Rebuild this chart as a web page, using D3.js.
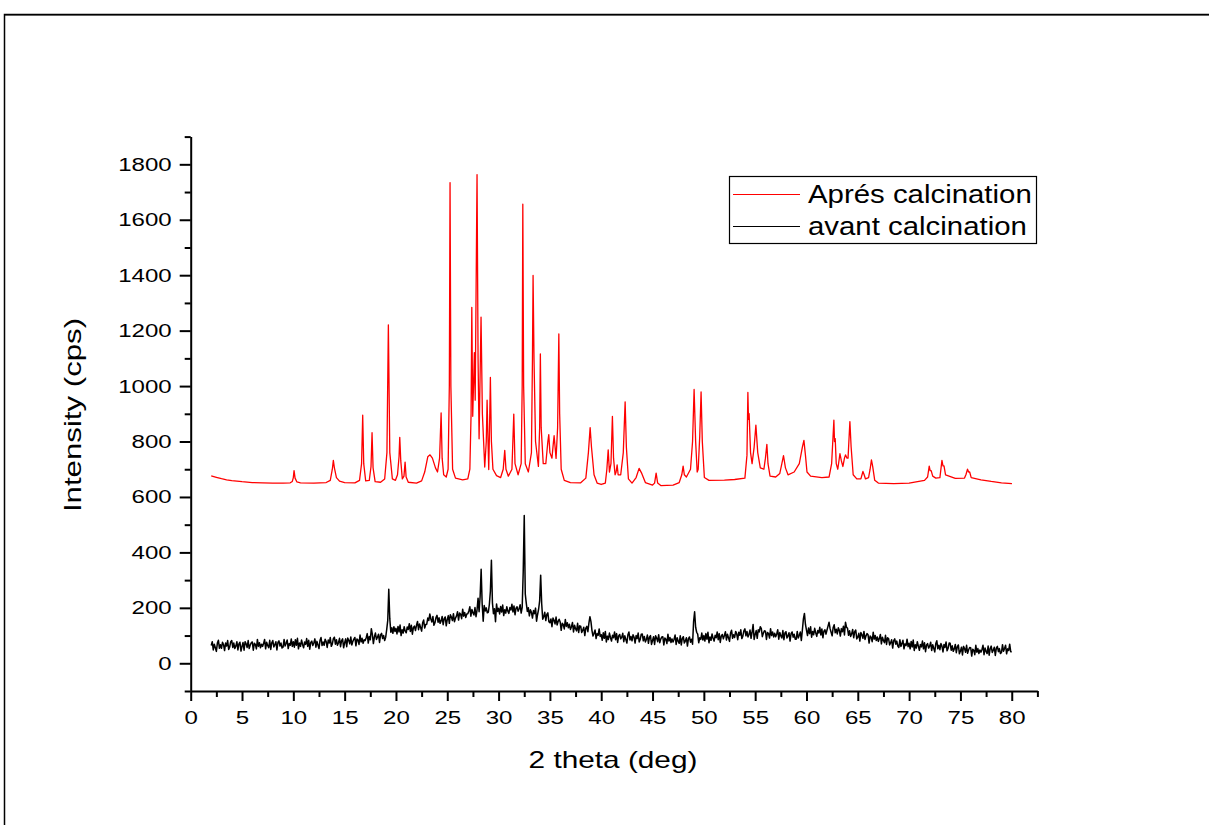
<!DOCTYPE html>
<html>
<head>
<meta charset="utf-8">
<script src="https://cdn.jsdelivr.net/npm/d3@7"></script>
<style>
  body { margin: 0; background: #fff; }
  text { font-family: "Liberation Sans", Arial, sans-serif; fill: #000; }
</style>
</head>
<body>
<div id="chart"></div>
<script>
// axis ticks
const xMajorTicks = [0, 5, 10, 15, 20, 25, 30, 35, 40, 45, 50, 55, 60, 65, 70, 75, 80];
const xMinorTicks = [2.5, 7.5, 12.5, 17.5, 22.5, 27.5, 32.5, 37.5, 42.5, 47.5, 52.5, 57.5, 62.5, 67.5, 72.5, 77.5, 82.5];
const yMajorTicks = [0, 200, 400, 600, 800, 1000, 1200, 1400, 1600, 1800];
const yMinorTicks = [-100, 100, 300, 500, 700, 900, 1100, 1300, 1500, 1700, 1900];

const seriesNames = ["Aprés calcination", "avant calcination"];
const seriesColors = ["#ff0000", "#000000"];

// after calcination: [2theta, cps]
const apresPoints = [
  [2.0,676],[2.5,671],[3.0,666],[3.5,662],[4.0,659],[5.0,655],[6.0,652],[7.0,651],[8.0,650],[9.0,650],[9.7,651],
  [9.9,656],[10.0,670],[10.07,695],[10.17,668],[10.35,654],[10.7,651],[12.0,650],[13.2,652],
  [13.6,660],[13.8,700],[13.9,732],[14.0,705],[14.2,670],[14.5,657],[15.0,652],[16.0,651],
  [16.45,660],[16.65,720],[16.76,895],[16.86,720],[17.05,658],
  [17.4,660],[17.57,710],[17.67,832],[17.77,705],[17.97,655],[18.5,653],
  [18.9,665],[19.12,760],[19.26,1221],[19.4,760],[19.65,665],[19.95,660],
  [20.15,680],[20.3,745],[20.37,815],[20.47,730],[20.62,665],
  [20.78,675],[20.89,726],[20.99,672],[21.2,653],[22.0,650],
  [22.5,658],[22.8,690],[23.1,745],[23.32,752],[23.55,740],[23.85,705],[24.05,690],
  [24.25,740],[24.4,903],[24.5,740],[24.65,680],[24.9,672],
  [25.08,700],[25.2,1000],[25.27,1734],[25.35,1000],[25.52,700],[25.8,668],[26.5,662],[27.0,665],
  [27.2,700],[27.32,900],[27.39,1284],[27.48,891],[27.64,1121],[27.72,949],[27.9,1763],[28.0,1100],
  [28.1,810],[28.29,1249],[28.42,900],[28.65,708],[28.8,800],[28.88,949],[28.97,800],[29.04,699],
  [29.12,850],[29.2,1031],[29.3,800],[29.45,700],[29.8,677],[30.2,670],
  [30.45,700],[30.6,768],[30.72,700],[30.95,675],[31.3,700],[31.48,899],[31.6,720],[31.9,680],
  [32.2,720],[32.3,1000],[32.36,1656],[32.44,1000],[32.6,720],[32.9,690],
  [33.2,760],[33.3,1100],[33.36,1399],[33.45,1100],[33.6,800],[33.88,710],
  [34.0,850],[34.07,1116],[34.15,850],[34.35,720],[34.6,720],[34.8,800],[34.89,825],[35.0,760],
  [35.2,740],[35.35,800],[35.41,821],[35.6,739],[35.75,850],[35.87,1188],[35.95,900],[36.1,700],
  [36.4,660],[37.0,652],[38.0,651],[38.5,668],[38.75,760],[38.92,850],[39.05,780],[39.3,680],
  [39.6,650],[40.0,645],[40.4,650],
  [40.55,700],[40.68,770],[40.8,690],[40.95,720],[41.09,891],[41.2,740],[41.35,680],[41.45,690],
  [41.55,716],[41.65,680],[41.9,680],[42.15,760],[42.33,943],[42.45,780],[42.65,665],[43.0,650],
  [43.4,670],[43.69,703],[43.95,685],[44.3,652],[45.0,643],[45.2,650],[45.35,686],[45.5,650],
  [45.8,641],[47.0,643],[47.6,652],[47.85,680],[47.98,711],[48.1,680],[48.3,672],
  [48.7,700],[48.9,800],[49.05,988],[49.2,800],[49.35,690],[49.45,700],[49.6,820],[49.73,979],
  [49.85,800],[50.05,670],[50.5,660],[52.0,661],[53.0,663],[54.0,668],
  [54.2,750],[54.29,977],[54.35,880],[54.41,901],[54.55,760],[54.7,720],[54.9,780],[55.07,859],
  [55.25,760],[55.5,705],[55.85,700],[56.0,740],[56.14,790],[56.25,720],[56.45,675],
  [57.0,672],[57.4,685],[57.6,720],[57.76,749],[57.95,705],[58.2,680],[58.8,690],
  [59.3,720],[59.6,780],[59.75,804],[59.9,750],[60.05,690],[60.4,675],[61.5,670],[62.2,672],
  [62.45,720],[62.67,877],[62.73,800],[62.8,810],[62.9,720],[63.05,700],[63.26,756],[63.4,730],
  [63.55,710],[63.7,740],[63.8,752],[63.95,740],[64.05,740],[64.23,872],[64.35,780],[64.55,680],
  [64.9,665],[65.3,665],[65.5,692],[65.62,680],[65.75,665],[66.05,670],[66.2,700],[66.33,734],
  [66.45,710],[66.65,660],[67.0,650],[68.5,648],[70.0,650],[71.5,660],
  [71.8,672],[71.96,711],[72.05,695],[72.15,695],[72.3,675],[72.6,668],[73.0,670],
  [73.2,732],[73.3,712],[73.4,712],[73.55,680],[74.5,667],[75.4,668],
  [75.55,682],[75.69,700],[75.8,690],[75.9,690],[76.05,670],[77.0,662],[78.0,656],[79.0,651],[80.02,648]
];

// before calcination: one count every 0.1 deg from 2.0 to 80.0
const avantStart = 2.0;
const avantStep = 0.1;
const avantCounts = [
  64,78,48,69,56,43,73,83,54,67,
  54,76,67,46,73,62,82,50,59,78,
  82,57,73,53,62,78,48,70,76,44,
  61,75,47,78,70,57,82,53,66,74,
  77,47,72,68,52,86,61,74,56,69,
  61,71,86,52,76,64,56,83,50,74,
  82,59,67,78,48,75,81,62,73,55,
  58,86,62,72,84,53,71,65,88,61,
  78,58,85,65,90,52,73,61,84,68,
  56,77,68,89,61,83,51,75,80,64,
  74,88,58,79,66,53,83,93,64,77,
  65,87,78,57,84,73,93,61,70,89,
  94,69,85,65,74,90,60,82,88,56,
  74,88,60,91,83,70,95,66,79,87,
  93,63,88,84,68,102,77,90,72,85,
  82,92,107,73,97,85,125,104,71,95,
  109,86,94,105,75,102,108,89,100,82,
  94,122,155,267,160,112,128,108,132,115,
  126,106,133,113,138,100,121,109,132,116,
  110,131,122,143,115,137,105,129,134,118,
  137,151,121,142,129,116,146,156,127,140,
  141,163,154,178,160,149,169,137,146,165,
  173,148,164,144,153,169,139,161,167,135,
  158,172,144,175,167,154,179,150,163,171,
  186,156,181,177,161,195,170,183,165,178,
  179,189,204,170,194,182,174,201,168,192,
  235,186,240,339,215,152,208,189,200,182,
  184,212,260,372,218,179,197,150,214,187,
  198,178,205,185,210,172,193,181,204,188,
  180,201,192,213,185,207,175,199,204,188,
  197,211,181,202,330,533,250,216,187,200,
  171,193,184,163,190,179,199,152,176,195,
  225,318,215,159,168,184,154,176,182,150,
  146,160,132,163,155,142,167,138,151,159,
  149,119,144,140,124,158,133,146,128,141,
  122,132,147,113,137,125,117,144,111,135,
  134,111,119,130,100,127,133,114,145,168,
  150,118,98,108,120,89,107,101,124,97,
  103,83,110,90,115,77,98,86,109,93,
  80,101,92,113,85,107,75,99,104,88,
  94,108,78,99,86,73,103,113,84,97,
  81,103,94,73,100,89,109,77,86,105,
  106,81,97,77,86,102,72,94,100,68,
  82,96,68,99,91,78,103,74,87,95,
  96,66,91,87,71,105,80,93,75,88,
  77,87,102,68,92,80,72,99,66,90,
  96,73,81,92,62,89,95,76,87,69,
  150,186,130,112,105,74,92,86,109,84,
  100,80,107,87,112,74,95,83,106,90,
  80,101,92,113,85,107,75,99,104,88,
  100,114,84,105,92,79,109,119,90,103,
  93,115,106,85,112,101,121,89,98,117,
  124,99,115,95,104,120,90,112,140,86,
  104,118,90,121,113,132,125,96,109,117,
  116,86,111,107,91,125,100,113,95,108,
  96,106,121,87,111,99,91,118,85,109,
  114,91,99,110,80,107,113,94,105,87,
  87,115,91,101,113,82,120,160,180,140,
  120,100,127,107,132,94,115,103,126,110,
  97,118,109,130,102,124,92,116,121,105,
  120,134,148,125,112,99,129,139,110,123,
  106,128,119,98,125,114,134,102,148,130,
  126,101,117,97,106,122,92,114,120,88,
  94,108,80,111,103,90,115,86,99,107,
  103,73,98,94,78,112,87,100,82,95,
  79,89,104,70,94,82,74,101,68,92,
  89,66,74,85,55,82,88,69,80,62,
  57,85,61,71,83,52,70,64,87,60,
  72,52,79,59,84,46,67,55,78,62,
  47,68,59,80,52,74,42,66,71,55,
  62,76,46,67,54,41,71,81,52,65,
  49,71,62,41,68,57,77,45,54,73,
  72,47,63,43,52,68,38,60,66,34,
  44,58,30,61,53,40,65,36,49,57,
  56,26,51,47,31,65,40,53,35,48,
  40,50,65,31,55,43,35,62,29,53,
  62,39,47,58,28,55,61,42,53,35,
  39,67,43,53,65,34,52,46,69,42,
  42
];

const width = 1209, height = 825;
const plotLeft = 190.7, plotRight = 1037.4, plotTop = 136.6, plotBottom = 691;

const svg = d3.select("#chart").append("svg")
    .attr("width", width)
    .attr("height", height);

// the text in the original is drawn wider than its height suggests
function widen(sel, factor) {
    sel.each(function () {
        const w = this.getComputedTextLength();
        d3.select(this)
            .attr("textLength", w * factor)
            .attr("lengthAdjust", "spacingAndGlyphs");
    });
}

// outer frame (top and left edges visible)
svg.append("path")
    .attr("d", "M4.5,825 L4.5,14.5 L1209,14.5")
    .attr("fill", "none")
    .attr("stroke", "#000")
    .attr("stroke-width", 1.5);
svg.append("line")
    .attr("x1", 4).attr("x2", width)
    .attr("y1", 15).attr("y2", 15)
    .attr("stroke", "#000").attr("stroke-width", 1);

const x = d3.scaleLinear().domain([0, 82.5]).range([plotLeft, plotRight]);
const y = d3.scaleLinear().domain([-100, 1900]).range([plotBottom, plotTop]);

// minor ticks first, major ticks with labels on top
svg.append("g")
    .attr("transform", `translate(0,${plotBottom})`)
    .call(d3.axisBottom(x).tickValues(xMinorTicks).tickSize(6).tickSizeOuter(0).tickFormat(""))
    .call(g => g.select(".domain").remove());
const xAxis = svg.append("g")
    .attr("class", "axis")
    .attr("transform", `translate(0,${plotBottom})`)
    .call(d3.axisBottom(x).tickValues(xMajorTicks).tickSize(10).tickSizeOuter(0).tickPadding(10).tickFormat(d3.format("d")));

svg.append("g")
    .attr("transform", `translate(${plotLeft},0)`)
    .call(d3.axisLeft(y).tickValues(yMinorTicks).tickSize(6).tickSizeOuter(0).tickFormat(""))
    .call(g => g.select(".domain").remove());
const yAxis = svg.append("g")
    .attr("class", "axis")
    .attr("transform", `translate(${plotLeft},0)`)
    .call(d3.axisLeft(y).tickValues(yMajorTicks).tickSize(11).tickSizeOuter(0).tickPadding(8).tickFormat(d3.format("d")));

svg.selectAll(".tick line").attr("stroke", "#000").attr("stroke-width", 2);
svg.selectAll(".domain").attr("stroke", "#000").attr("stroke-width", 2);
svg.selectAll(".axis .tick text")
    .style("font-family", '"Liberation Sans", Arial, sans-serif')
    .style("font-size", "18.5px")
    .attr("fill", "#000")
    .call(widen, 1.3);

// axis titles
svg.append("text")
    .attr("x", 613).attr("y", 768)
    .attr("text-anchor", "middle")
    .style("font-size", "24px")
    .text("2 theta (deg)")
    .call(widen, 1.24);
svg.append("text")
    .attr("transform", "translate(81,415) rotate(-90)")
    .attr("text-anchor", "middle")
    .style("font-size", "24px")
    .text("Intensity (cps)")
    .call(widen, 1.3);

// traces
const line = d3.line()
    .x(d => x(d[0]))
    .y(d => y(d[1]));

const avantPoints = avantCounts.map((c, i) => [avantStart + i * avantStep, c]);

svg.append("path")
    .datum(avantPoints)
    .attr("fill", "none")
    .attr("stroke", seriesColors[1])
    .attr("stroke-width", 1.5)
    .attr("stroke-linejoin", "round")
    .attr("d", line);

svg.append("path")
    .datum(apresPoints)
    .attr("fill", "none")
    .attr("stroke", seriesColors[0])
    .attr("stroke-width", 1.3)
    .attr("stroke-linejoin", "round")
    .attr("d", line);

// legend
const legend = svg.append("g");
legend.append("rect")
    .attr("x", 729.5).attr("y", 176.5)
    .attr("width", 307).attr("height", 67)
    .attr("fill", "#fff")
    .attr("stroke", "#000")
    .attr("stroke-width", 1.2);
seriesNames.forEach((name, i) => {
    const ly = 194.5 + i * 32;
    legend.append("line")
        .attr("x1", 733).attr("x2", 800)
        .attr("y1", ly).attr("y2", ly)
        .attr("stroke", seriesColors[i])
        .attr("stroke-width", 1.2);
    legend.append("text")
        .attr("x", 808).attr("y", ly + 8.5)
        .style("font-size", "26px")
        .text(name)
        .call(widen, 1.13);
});
</script>
</body>
</html>
